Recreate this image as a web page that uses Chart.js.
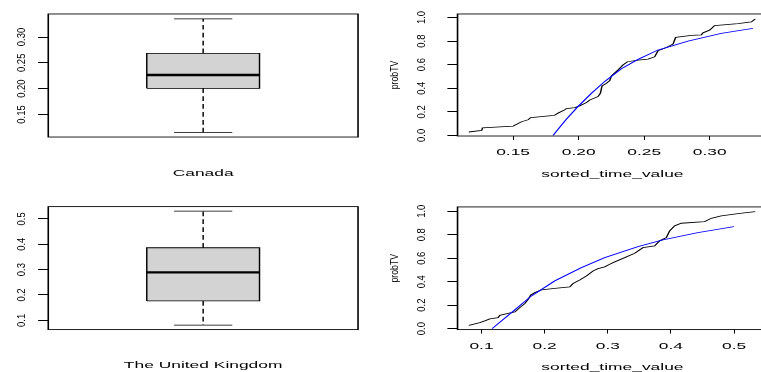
<!DOCTYPE html>
<html>
<head>
<meta charset="utf-8">
<script src="https://cdn.jsdelivr.net/npm/chart.js@4.4.1/dist/chart.umd.min.js"></script>
<style>
html, body { margin: 0; padding: 0; background: #fff; overflow: hidden; }
.panel { position: absolute; overflow: hidden; }
</style>
</head>
<body>
<div class="panel" style="left:0;top:0;width:381px;height:186px"><canvas id="boxCanada" width="263" height="236"></canvas></div>
<div class="panel" style="left:0;top:186px;width:381px;height:186px"><canvas id="boxUK" width="263" height="246"></canvas></div>
<div class="panel" style="left:381px;top:0;width:380px;height:186px"><canvas id="cdfCanada" width="280" height="236"></canvas></div>
<div class="panel" style="left:381px;top:186px;width:380px;height:186px"><canvas id="cdfUK" width="280" height="246"></canvas></div>
<script>
// boxplot stats: min, q1, median, q3, max
const canadaStats = [0.1153, 0.2006, 0.2264, 0.2684, 0.3350];
const ukStats = [0.0814, 0.1765, 0.2890, 0.3863, 0.5305];
const canadaBoxTicks = [0.15, 0.20, 0.25, 0.30];
const ukBoxTicks = [0.1, 0.2, 0.3, 0.4, 0.5];

// sorted values and their cumulative probability
const canadaTime = [0.1162, 0.1260, 0.1267, 0.1500, 0.1564, 0.1614, 0.1635, 0.1813, 0.1843, 0.1894,
  0.1907, 0.1970, 0.2008, 0.2060, 0.2085, 0.2148, 0.2166, 0.2178, 0.2212, 0.2237, 0.2250, 0.2300,
  0.2338, 0.2372, 0.2453, 0.2529, 0.2580, 0.2605, 0.2669, 0.2720, 0.2740, 0.2860, 0.2936, 0.2948,
  0.2999, 0.3037, 0.3215, 0.3317, 0.3347];
const canadaProb = [0.029, 0.042, 0.065, 0.079, 0.116, 0.133, 0.152, 0.169, 0.189, 0.217,
  0.228, 0.236, 0.251, 0.279, 0.300, 0.329, 0.358, 0.420, 0.442, 0.465, 0.504, 0.555,
  0.597, 0.625, 0.639, 0.648, 0.667, 0.718, 0.746, 0.774, 0.831, 0.848, 0.853, 0.870,
  0.893, 0.932, 0.949, 0.963, 0.988];
const canadaFitTime = [0.1805, 0.1900, 0.1995, 0.2100, 0.2199, 0.2326, 0.2453, 0.2605, 0.2834, 0.3088, 0.3329];
const canadaFitProb = [0.000, 0.130, 0.245, 0.360, 0.458, 0.565, 0.645, 0.724, 0.800, 0.865, 0.907];

const ukTime = [0.0799, 0.0973, 0.1052, 0.1131, 0.1263, 0.1290, 0.1421, 0.1527, 0.1606, 0.1685,
  0.1738, 0.1780, 0.1843, 0.1949, 0.2160, 0.2397, 0.2450, 0.2555, 0.2661, 0.2766, 0.2845, 0.2951,
  0.3030, 0.3110, 0.3268, 0.3426, 0.3557, 0.3742, 0.3821, 0.3927, 0.3980, 0.4059, 0.4164, 0.4533,
  0.4639, 0.4797, 0.5060, 0.5335];
const ukProb = [0.028, 0.051, 0.066, 0.083, 0.094, 0.113, 0.130, 0.142, 0.179, 0.213,
  0.250, 0.287, 0.307, 0.330, 0.344, 0.355, 0.384, 0.415, 0.449, 0.492, 0.511, 0.526,
  0.548, 0.569, 0.605, 0.642, 0.690, 0.705, 0.748, 0.776, 0.833, 0.876, 0.898, 0.912,
  0.940, 0.961, 0.980, 0.997];
const ukFitTime = [0.1168, 0.1500, 0.1791, 0.2160, 0.2582, 0.2951, 0.3478, 0.3873, 0.4427, 0.4997];
const ukFitProb = [0.000, 0.148, 0.279, 0.407, 0.520, 0.605, 0.699, 0.756, 0.818, 0.870];

const canadaTimeTicks = [0.15, 0.20, 0.25, 0.30];
const ukTimeTicks = [0.1, 0.2, 0.3, 0.4, 0.5];
const probTicks = [0.0, 0.2, 0.4, 0.6, 0.8, 1.0];

// the source picture is an R plot stretched wide and squashed; charts are laid out
// at the original size and drawn through this stretch
const SX = 761 / 525, SY = 372 / 471;

Chart.defaults.font.family = "'Liberation Sans', Arial, Helvetica, sans-serif";
Chart.defaults.font.size = 12;
Chart.defaults.color = '#000';
Chart.defaults.animation = false;
Chart.defaults.plugins.legend.display = false;
Chart.defaults.plugins.tooltip.enabled = false;

// R-style box round the plot region, tick marks, and y labels written upwards
const rAxes = {
  id: 'rAxes',
  afterDraw(chart, args, o) {
    const ctx = chart.ctx, a = chart.chartArea, xs = chart.scales.x, ys = chart.scales.y;
    const yt = Array.from(o.yTicks), xt = Array.from(o.xTicks || []);
    ctx.save();
    ctx.setLineDash([]);
    ctx.strokeStyle = '#000';
    ctx.fillStyle = '#000';
    ctx.lineWidth = 1.1;
    ctx.strokeRect(a.left, a.top, a.right - a.left, a.bottom - a.top);

    // tick marks outside the box, snapped to whole screen pixels
    yt.forEach(function(v) {
      const row = Math.floor(ys.getPixelForValue(v) * SY);
      ctx.fillRect(a.left - 7, row / SY, 7, 1 / SY);
    });
    xt.forEach(function(v) {
      const col = Math.floor(xs.getPixelForValue(v) * SX);
      ctx.fillRect(col / SX, a.bottom, 1 / SX, 5);
    });

    ctx.textAlign = 'center';
    ctx.textBaseline = 'alphabetic';
    ctx.font = "12px 'Liberation Sans', Arial, sans-serif";
    yt.forEach(function(v) {
      ctx.save();
      ctx.translate(a.left - o.gap, ys.getPixelForValue(v));
      ctx.rotate(-Math.PI / 2);
      ctx.scale(1, 0.6);
      ctx.fillText(v.toFixed(o.digits), 0, 0);
      ctx.restore();
    });
    if (o.title) {
      ctx.font = "11px 'Liberation Sans', Arial, sans-serif";
      ctx.translate(a.left - o.titleGap, (a.top + a.bottom) / 2);
      ctx.rotate(-Math.PI / 2);
      ctx.scale(1, 0.7);
      ctx.fillText(o.title, 0, 0);
    }
    ctx.restore();
  }
};

function yScale(min, max, width) {
  return {
    type: 'linear', min: min, max: max,
    afterFit: function(s) { s.width = width; },
    grid: {display: false},
    border: {display: false},
    ticks: {display: false}
  };
}

function nameScale(name, height, titlePad) {
  return {
    type: 'linear', min: 0, max: 1,
    afterFit: function(s) { s.height = height; },
    grid: {display: false},
    border: {display: false},
    ticks: {display: false},
    title: {display: true, text: name, padding: {top: 0, bottom: titlePad}}
  };
}

function timeScale(min, max, ticks, digits, height, titlePad) {
  return {
    type: 'linear', min: min, max: max,
    afterBuildTicks: function(s) { s.ticks = ticks.map(function(v) { return {value: v}; }); },
    afterFit: function(s) { s.height = height; },
    grid: {display: false, drawTicks: true, tickLength: 5},
    border: {display: false},
    ticks: {autoSkip: false, maxRotation: 0, padding: 9, callback: function(v) { return v.toFixed(digits); }},
    title: {display: true, text: 'sorted_time_value', padding: {top: 0, bottom: titlePad}}
  };
}

function seg(points, extra) {
  return Object.assign({data: points, showLine: true, pointRadius: 0, borderColor: '#000',
    borderWidth: 1, fill: false}, extra);
}

// box x positions on a 0..1 axis
const BOX = [0.318, 0.682], CAP = [0.406, 0.594], MID = 0.5;

function boxDatasets(s) {
  const lo = s[0], q1 = s[1], med = s[2], q3 = s[3], hi = s[4];
  return [
    seg([{x: BOX[0], y: med}, {x: BOX[1], y: med}], {borderWidth: 3, order: 0}),
    seg([{x: MID, y: q3}, {x: MID, y: hi}], {borderDash: [6, 4], order: 1}),
    seg([{x: MID, y: q1}, {x: MID, y: lo}], {borderDash: [6, 4], order: 1}),
    seg([{x: CAP[0], y: hi}, {x: CAP[1], y: hi}], {order: 1}),
    seg([{x: CAP[0], y: lo}, {x: CAP[1], y: lo}], {order: 1}),
    seg([{x: BOX[0], y: q1}, {x: BOX[1], y: q1}, {x: BOX[1], y: q3}, {x: BOX[0], y: q3}, {x: BOX[0], y: q1}],
      {fill: 'shape', backgroundColor: '#d3d3d3', order: 2})
  ];
}

function pairs(xs, ys) {
  return xs.map(function(x, i) { return {x: x, y: ys[i]}; });
}

// redraw the finished chart into a bitmap of the stretched size
function stretch(chart, w, h) {
  const c = chart.canvas;
  c.width = w;
  c.height = h;
  c.style.width = w + 'px';
  c.style.height = h + 'px';
  chart.ctx.setTransform(SX, 0, 0, SY, 0, 0);
  chart.draw();
}

function boxChart(id, name, stats, ticks, digits, yMin, yMax, top, xHeight, titlePad) {
  return new Chart(document.getElementById(id), {
    type: 'scatter',
    data: {datasets: boxDatasets(stats)},
    options: {
      responsive: false, devicePixelRatio: 1,
      layout: {padding: {left: 0, top: top, right: 16, bottom: 0}},
      scales: {x: nameScale(name, xHeight, titlePad), y: yScale(yMin, yMax, 33.3)},
      plugins: {rAxes: {yTicks: ticks, digits: digits, gap: 16.1}}
    },
    plugins: [rAxes]
  });
}

function cdfChart(id, time, prob, fitTime, fitProb, xTicks, digits, xMin, xMax, yMin, yMax, top, xHeight, titlePad) {
  return new Chart(document.getElementById(id), {
    type: 'scatter',
    data: {datasets: [
      seg(pairs(fitTime, fitProb), {borderColor: '#0000ff', order: 0}),
      seg(pairs(time, prob), {order: 1})
    ]},
    options: {
      responsive: false, devicePixelRatio: 1,
      layout: {padding: {left: 0, top: top, right: 13.5, bottom: 0}},
      scales: {x: timeScale(xMin, xMax, xTicks, digits, xHeight, titlePad), y: yScale(yMin, yMax, 52.8)},
      plugins: {rAxes: {yTicks: probTicks, xTicks: xTicks, digits: 1, gap: 22.6, title: 'probTV', titleGap: 41.2}}
    },
    plugins: [rAxes]
  });
}

stretch(boxChart('boxCanada', 'Canada', canadaStats, canadaBoxTicks, 2, 0.1062, 0.3446, 17.7, 62.5, 9.8), 381, 186);
stretch(boxChart('boxUK', 'The United Kingdom', ukStats, ukBoxTicks, 1, 0.0634, 0.5485, 26.1, 64.2, 11.4), 381, 186);
stretch(cdfChart('cdfCanada', canadaTime, canadaProb, canadaFitTime, canadaFitProb, canadaTimeTicks, 2,
  0.1076, 0.3439, -0.005, 1.03, 17.7, 63.8, 7.9), 380, 186);
stretch(cdfChart('cdfUK', ukTime, ukProb, ukFitTime, ukFitProb, ukTimeTicks, 1,
  0.062, 0.5526, -0.008, 1.037, 26.5, 64.2, 9.5), 380, 186);
</script>
</body>
</html>
